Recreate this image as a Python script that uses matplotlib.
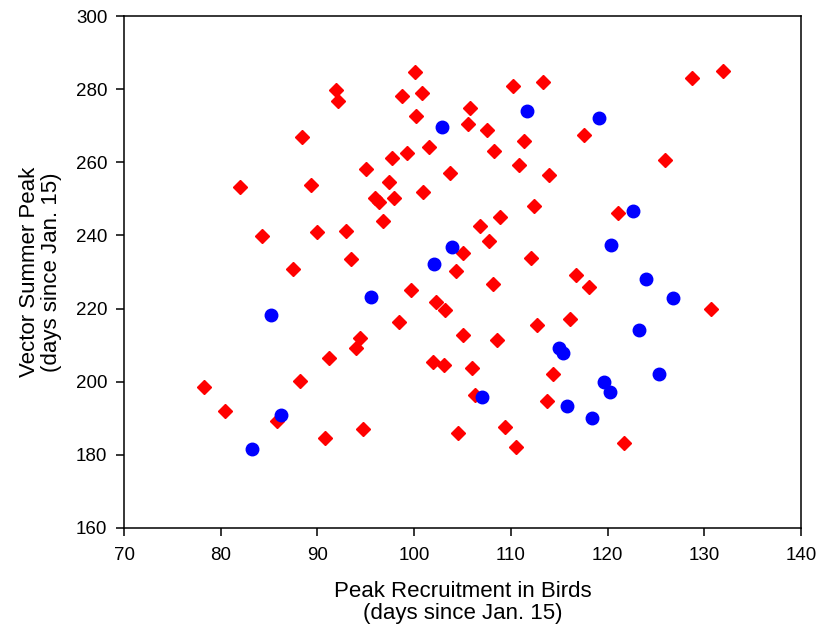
import matplotlib.pyplot as plt
import numpy as np
from matplotlib import rcParams

rcParams['font.family'] = ['Liberation Sans', 'DejaVu Sans']
rcParams['font.size'] = 13
rcParams['axes.linewidth'] = 1.1

# --- data (days since Jan. 15) ---
red_x = [78.3, 80.4, 82.0, 84.3, 85.8, 87.5, 88.2, 88.4, 89.3, 90.0,
         90.8, 91.2, 91.9, 92.1, 93.0, 93.5, 94.0, 94.4, 94.7, 95.0,
         95.9, 96.4, 96.8, 97.4, 97.7, 97.9, 98.4, 98.7, 99.3, 99.7,
         100.1, 100.2, 100.8, 100.9, 101.5, 101.9, 102.3, 103.1, 103.2, 103.7,
         104.3, 104.5, 105.1, 105.1, 105.6, 105.8, 106.0, 106.3, 106.8, 107.5,
         107.7, 108.2, 108.3, 108.6, 108.9, 109.4, 110.2, 110.5, 110.8, 111.4,
         112.1, 112.4, 112.7, 113.3, 113.7, 113.9, 114.4, 116.1, 116.7, 117.6,
         118.1, 121.1, 121.7, 125.9, 128.7, 130.7, 131.9]
red_y = [198.5, 191.9, 253.3, 239.8, 189.3, 230.8, 200.1, 266.8, 253.7, 240.9,
         184.5, 206.4, 279.8, 276.8, 241.2, 233.5, 209.3, 211.9, 187.2, 258.1,
         250.1, 249.2, 243.9, 254.5, 261.1, 250.3, 216.2, 278.2, 262.6, 225.0,
         284.7, 272.6, 279.0, 251.8, 264.2, 205.5, 221.8, 204.5, 219.5, 257.2,
         230.2, 186.0, 235.3, 212.8, 270.5, 274.8, 203.8, 196.4, 242.7, 268.9,
         238.4, 226.8, 263.1, 211.3, 245.0, 187.5, 280.9, 182.2, 259.3, 265.7,
         233.8, 248.0, 215.5, 282.0, 194.8, 256.4, 202.0, 217.1, 229.3, 267.5,
         225.8, 246.1, 183.3, 260.6, 283.0, 220.0, 285.1]

blue_x = [83.2, 85.2, 86.2, 95.5, 102.1, 102.9, 103.9, 107.0, 111.7, 115.0,
          115.4, 115.8, 118.4, 119.1, 119.6, 120.2, 120.4, 122.6, 123.2, 124.0,
          125.3, 126.8]
blue_y = [181.5, 218.3, 190.9, 223.3, 232.3, 269.7, 236.7, 195.9, 274.0, 209.3,
          207.8, 193.3, 190.2, 272.0, 199.8, 197.1, 237.4, 246.7, 214.2, 228.2,
          202.1, 223.0]

xticks = np.arange(70, 141, 10)
yticks = np.arange(160, 301, 20)

fig, ax = plt.subplots(figsize=(8.28, 6.33), dpi=100)
fig.subplots_adjust(left=0.1498, right=0.9674, top=0.9747, bottom=0.1659)

ax.plot(red_x, red_y, ls='none', marker='D', ms=7.2, color='#FF0000', mec='#FF0000')
ax.plot(blue_x, blue_y, ls='none', marker='o', ms=9, color='#0000FF', mec='#0000FF')

ax.set_xlim(70, 140)
ax.set_ylim(160, 300)
ax.set_xticks(xticks)
ax.set_yticks(yticks)
ax.tick_params(axis='x', direction='out', length=6, width=1.1, labelsize=13.5, pad=8)
ax.tick_params(axis='y', direction='out', length=6, width=1.1, labelsize=13.5, pad=6)

ax.set_xlabel('Peak Recruitment in Birds\n(days since Jan. 15)', fontsize=16, labelpad=12, linespacing=1.05)
ax.set_ylabel('Vector Summer Peak\n(days since Jan. 15)', fontsize=16, labelpad=10, linespacing=1.05)

fig.savefig('out.png', dpi=100)
